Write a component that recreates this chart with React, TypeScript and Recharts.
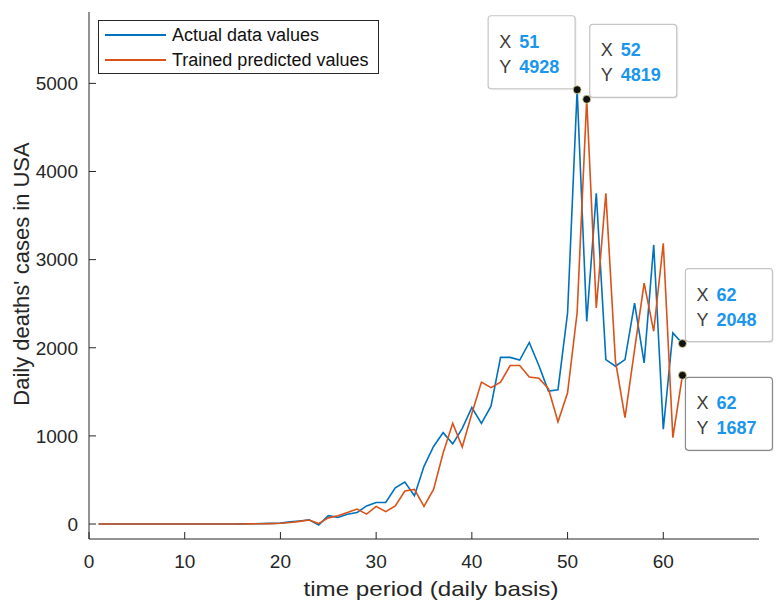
import React from 'react';
import { LineChart, Line, XAxis, YAxis, Legend } from 'recharts';

const days = [
  1, 2, 3, 4, 5, 6, 7, 8, 9, 10, 11, 12, 13, 14, 15, 16, 17, 18, 19, 20, 21,
  22, 23, 24, 25, 26, 27, 28, 29, 30, 31, 32, 33, 34, 35, 36, 37, 38, 39, 40,
  41, 42, 43, 44, 45, 46, 47, 48, 49, 50, 51, 52, 53, 54, 55, 56, 57, 58, 59,
  60, 61, 62,
];

const actualValues = [
  0, 0, 0, 0, 0, 1, 0, 1, 0, 1, 0, 1, 0, 1, 1, 2, 3, 5, 7, 10, 24,
  35, 48, -10, 95, 75, 110, 130, 205, 245, 245, 410, 475, 320, 655, 880, 1037, 910, 1086, 1322,
  1142, 1337, 1891, 1891, 1861, 2060, 1798, 1509, 1524, 2394, 4928, 2300, 3752, 1866, 1791, 1866, 2507, 1829, 3167,
  1075, 2168, 2048,
];

const predictedValues = [
  0, 0, 0, 0, 0, 0, 1, 0, 1, 0, 1, 0, 1, 0, 1, 1, 2, 3, 5, 8, 18,
  30, 45, 5, 70, 94, 130, 170, 112, 200, 140, 205, 375, 393, 200, 393, 805, 1142, 873, 1255,
  1610, 1547, 1610, 1798, 1798, 1667, 1655, 1535, 1160, 1489, 2400, 4819, 2451, 3752, 1850, 1207, 1980, 2734, 2187,
  3186, 980, 1687,
];

const xTicks = [0, 10, 20, 30, 40, 50, 60];
const yTicks = [0, 1000, 2000, 3000, 4000, 5000];

// data tips: which series, which day, where the box sits
const tips = [
  { key: 'actual', day: 51, place: 'upLeft' },
  { key: 'predicted', day: 52, place: 'upRight' },
  { key: 'actual', day: 62, place: 'upRight' },
  { key: 'predicted', day: 62, place: 'downRight' },
];

const data = days.map((d, i) => ({
  day: d,
  actual: actualValues[i],
  predicted: predictedValues[i],
}));

const FONT = '"Liberation Sans", Arial, Helvetica, sans-serif';
const AXIS = '#262626';
const BLUE = '#0072BD';
const ORANGE = '#D95319';

const DataTip = ({ cx, cy, x, y, place, dark }: any) => {
  const w = 87;
  const h = 73;
  let left = cx + 3;
  let top = cy - 75;
  if (place === 'upLeft') {
    left = cx - 89;
    top = cy - 74;
  } else if (place === 'downRight') {
    left = cx + 3;
    top = cy + 2;
  }
  return (
    <g>
      <rect x={left + 1.5} y={top + 1.5} width={w} height={h} rx={3} fill="rgba(0,0,0,0.06)" />
      <rect x={left} y={top} width={w} height={h} rx={3} fill="#fff" stroke={dark ? '#8a8a8a' : '#c4c4c4'} strokeWidth={1.2} />
      <text x={left + 11} y={top + 32} fontFamily={FONT} fontSize={18}>
        <tspan fill="#3c3c3c">X</tspan>
        <tspan x={left + 31} fill="#1a96ee" fontWeight="bold">{x}</tspan>
      </text>
      <text x={left + 11} y={top + 57} fontFamily={FONT} fontSize={18}>
        <tspan fill="#3c3c3c">Y</tspan>
        <tspan x={left + 31} fill="#1a96ee" fontWeight="bold">{y}</tspan>
      </text>
      <circle cx={cx} cy={cy} r={4} fill="#111" stroke="#e9dc9a" strokeWidth={0.8} />
    </g>
  );
};

const makeDot = (key: string) => (props: any) => {
  const { cx, cy, payload, index } = props;
  const tip = tips.find((t) => t.key === key && t.day === payload.day);
  if (!tip) return <g key={`${key}-${index}`} />;
  return (
    <DataTip
      key={`${key}-${index}`}
      cx={cx}
      cy={cy}
      x={payload.day}
      y={payload[key]}
      place={tip.place}
      dark={tip.place === 'downRight'}
    />
  );
};

const LegendBox = () => (
  <div
    style={{
      border: `1px solid ${AXIS}`,
      background: '#fff',
      width: 281,
      height: 54,
      boxSizing: 'border-box',
      fontFamily: FONT,
      fontSize: 18,
      color: '#111',
      position: 'relative',
    }}
  >
    {[
      { label: 'Actual data values', color: BLUE, top: 3 },
      { label: 'Trained predicted values', color: ORANGE, top: 28 },
    ].map((item) => (
      <div key={item.label} style={{ position: 'absolute', left: 6, top: item.top, display: 'flex', alignItems: 'center', height: 22 }}>
        <span style={{ display: 'inline-block', width: 61, height: 0, borderTop: `2px solid ${item.color}`, marginRight: 6 }} />
        <span style={{ whiteSpace: 'nowrap' }}>{item.label}</span>
      </div>
    ))}
  </div>
);

export default function App() {
  return (
    <div style={{ position: 'absolute', left: 0, top: 0, width: 779, height: 605, background: '#fff' }}>
      <LineChart
        width={779}
        height={605}
        data={data}
        margin={{ top: 12, right: 20, bottom: 36, left: 9 }}
      >
        <XAxis
          dataKey="day"
          type="number"
          domain={[0, 70]}
          ticks={xTicks}
          height={30}
          stroke={AXIS}
          tickSize={-7}
          tickMargin={23}
          tick={{ fill: AXIS, fontSize: 19, fontFamily: FONT }}
          label={{
            content: () => (
              <text
                x={431}
                y={596}
                textAnchor="middle"
                fill={AXIS}
                fontSize={21}
                fontFamily={FONT}
                textLength={255}
                lengthAdjust="spacingAndGlyphs"
              >
                time period (daily basis)
              </text>
            ),
          }}
        />
        <XAxis
          xAxisId="top"
          orientation="top"
          type="number"
          domain={[0, 70]}
          ticks={xTicks}
          height={0}
          stroke={AXIS}
          tickSize={-7}
          tick={false}
        />
        <YAxis
          type="number"
          domain={[-170, 5810]}
          ticks={yTicks}
          width={80}
          stroke={AXIS}
          tickSize={-7}
          tickMargin={18}
          tick={{ fill: AXIS, fontSize: 19, fontFamily: FONT }}
          label={{
            content: () => (
              <text
                x={29}
                y={274}
                transform="rotate(-90 29 274)"
                textAnchor="middle"
                fill={AXIS}
                fontSize={22}
                fontFamily={FONT}
              >
                Daily deaths' cases in USA
              </text>
            ),
          }}
        />
        <YAxis
          yAxisId="right"
          orientation="right"
          type="number"
          domain={[-170, 5810]}
          ticks={yTicks}
          width={0}
          stroke={AXIS}
          tickSize={-7}
          tick={false}
        />
        <Legend
          layout="vertical"
          align="center"
          verticalAlign="middle"
          wrapperStyle={{ top: 20, left: 98, width: 281, height: 54 }}
          content={() => <LegendBox />}
        />
        <Line
          type="linear"
          dataKey="actual"
          name="Actual data values"
          stroke={BLUE}
          strokeWidth={1.6}
          dot={makeDot('actual')}
          activeDot={false}
          isAnimationActive={false}
        />
        <Line
          type="linear"
          dataKey="predicted"
          name="Trained predicted values"
          stroke={ORANGE}
          strokeWidth={1.6}
          dot={makeDot('predicted')}
          activeDot={false}
          isAnimationActive={false}
        />
      </LineChart>
    </div>
  );
}
